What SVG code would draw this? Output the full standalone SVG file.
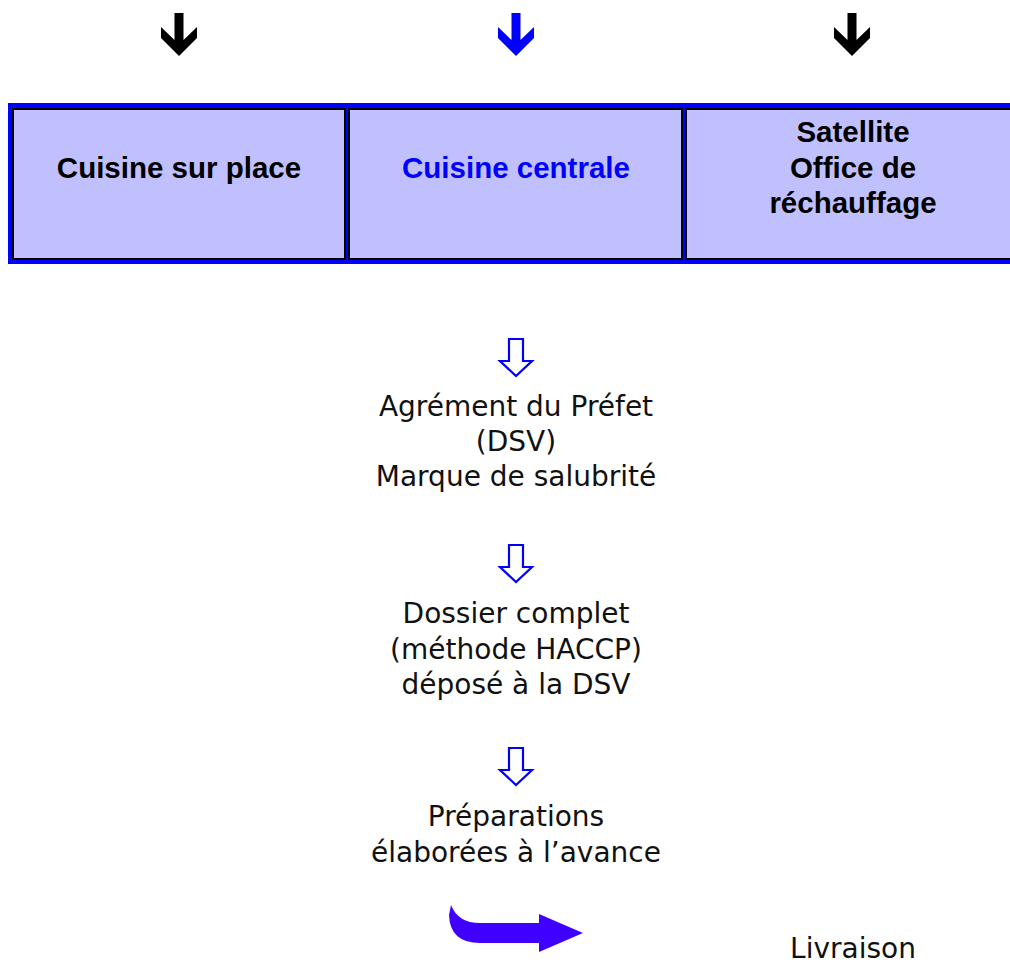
<svg xmlns="http://www.w3.org/2000/svg" width="1010" height="965" viewBox="0 0 1010 965">
<style>
.cell{fill:#C0C0FF;stroke:#000;stroke-width:2}
.hd{font-family:"Liberation Sans",Arial,sans-serif;font-weight:bold;font-size:29.5px;text-anchor:middle;fill:#000}
.tx{font-family:"DejaVu Sans",sans-serif;font-size:28px;text-anchor:middle;fill:#111}
.hollow{fill:#fff;stroke:#0000FF;stroke-width:2.2}
</style>
<defs>
<path id="chev" d="M-4.5,0 L4.5,0 L4.5,27 L18,14 L18,25 L0,43 L-18,25 L-18,14 L-4.5,27 Z"/>
<path id="hol" d="M-7,0 L7,0 L7,22 L16,22 L0,37 L-16,22 L-7,22 Z"/>
</defs>
<rect width="1010" height="965" fill="#fff"/>
<g id="top-arrows">
<use href="#chev" x="179" y="13" fill="#000"/>
<use href="#chev" x="516" y="13" fill="#0000FF"/>
<use href="#chev" x="852" y="13" fill="#000"/>
</g>
<g id="band">
<rect x="8" y="103" width="1010" height="161" fill="#0000FF"/>
</g>
<g id="cell-sur-place">
<rect class="cell" x="13" y="109" width="332" height="150"/>
<text class="hd" x="179" y="178">Cuisine sur place</text>
</g>
<g id="cell-centrale">
<rect class="cell" x="349" y="109" width="333" height="150"/>
<text class="hd" x="516" y="178" style="fill:#0000FF">Cuisine centrale</text>
</g>
<g id="cell-satellite">
<rect class="cell" x="686" y="109" width="340" height="150"/>
<text class="hd" x="853" y="142">Satellite</text>
<text class="hd" x="853" y="178">Office de</text>
<text class="hd" x="853" y="213">réchauffage</text>
</g>
<g id="connectors">
<use href="#hol" class="hollow" x="516" y="339"/>
<use href="#hol" class="hollow" x="516" y="545"/>
<use href="#hol" class="hollow" x="516" y="748"/>
<path d="M451,905 Q458,923 480,923 L539,923 L539,914 L583,933 L539,952 L539,943 L480,943 Q450,943 449,915 Z" fill="#4000FF"/>
</g>
<g id="agrement">
<text class="tx" x="516" y="416">Agrément du Préfet</text>
<text class="tx" x="516" y="451">(DSV)</text>
<text class="tx" x="516" y="486">Marque de salubrité</text>
</g>
<g id="dossier">
<text class="tx" x="516" y="623">Dossier complet</text>
<text class="tx" x="516" y="659">(méthode HACCP)</text>
<text class="tx" x="516" y="694">déposé à la DSV</text>
</g>
<g id="preparations">
<text class="tx" x="516" y="826">Préparations</text>
<text class="tx" x="516" y="862">élaborées à l’avance</text>
</g>
<g id="livraison">
<text class="tx" x="853" y="958">Livraison</text>
</g>
</svg>
